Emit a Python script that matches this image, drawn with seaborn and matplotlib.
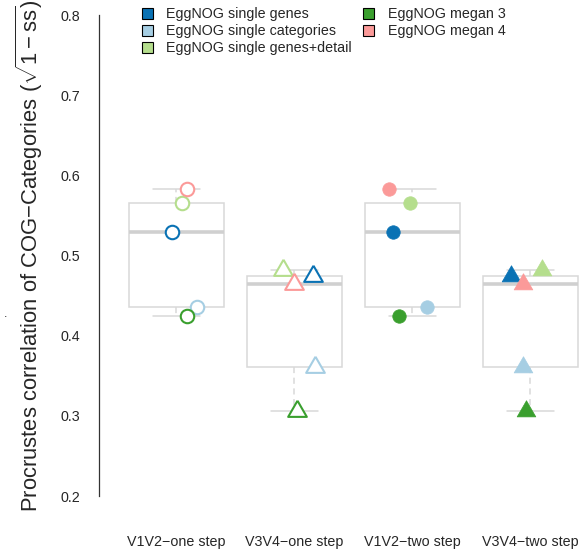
import numpy as np
import pandas as pd
import seaborn as sns

import matplotlib

matplotlib.use("Agg")
import matplotlib.pyplot as plt
from matplotlib.patches import Patch

sns.set_style("white")
plt.rcParams["font.family"] = ["Liberation Sans", "DejaVu Sans"]
plt.rcParams["mathtext.fontset"] = "custom"
plt.rcParams["mathtext.rm"] = "Liberation Sans"
plt.rcParams["mathtext.it"] = "Liberation Sans:italic"

groups = ["V1V2\u2212one step", "V3V4\u2212one step", "V1V2\u2212two step", "V3V4\u2212two step"]
methods = [
    "EggNOG single genes",
    "EggNOG single categories",
    "EggNOG single genes+detail",
    "EggNOG megan 3",
    "EggNOG megan 4",
]
colors = ["#0A72B4", "#A6CEE3", "#B5DE8D", "#3A9F2E", "#FB9A99"]

# one value per method, same order as methods
v1v2_vals = [0.529, 0.436, 0.565, 0.424, 0.583]
v3v4_vals = [0.474, 0.361, 0.482, 0.306, 0.464]
group_vals = [v1v2_vals, v3v4_vals, v1v2_vals, v3v4_vals]

# horizontal jitter of each point (category units)
jitter = [
    [-0.034, 0.174, 0.047, 0.093, 0.089],
    [0.159, 0.176, -0.097, 0.025, -0.007],
    [-0.169, 0.127, -0.025, -0.113, -0.195],
    [-0.161, -0.059, 0.099, -0.036, -0.062],
]

# R-style triangle (pch 2 / 17): the point sits at the centroid
r_triangle = [(0, 1.555), (1.347, -0.778), (-1.347, -0.778), (0, 1.555)]
group_marker = ["o", r_triangle, "o", r_triangle]
group_filled = [False, False, True, True]

rows = []
for g, vals in zip(groups, group_vals):
    for m, v in zip(methods, vals):
        rows.append({"group": g, "method": m, "value": v})
df = pd.DataFrame(rows)

fig = plt.figure(figsize=(5.8, 5.52), dpi=100)
ax = fig.add_axes([0.170, 0.1014, 0.830, 0.8714])

sns.boxplot(
    data=df,
    x="group",
    y="value",
    order=groups,
    width=0.8,
    color="white",
    linecolor="#D8D8D8",
    linewidth=1.1,
    showfliers=False,
    whis=10,
    whiskerprops=dict(linestyle=(0, (4, 3)), color="#D8D8D8"),
    capprops=dict(color="#D8D8D8"),
    medianprops=dict(color="#D0D0D0", linewidth=2.6),
    ax=ax,
)

for gi in range(len(groups)):
    for mi in range(len(methods)):
        x = gi + jitter[gi][mi]
        y = group_vals[gi][mi]
        mk = group_marker[gi]
        size = 9.7 if mk == "o" else 15.5
        ax.plot(
            x,
            y,
            marker=mk,
            markersize=size,
            markerfacecolor=colors[mi] if group_filled[gi] else "white",
            markeredgecolor=colors[mi],
            markeredgewidth=1.5 if not group_filled[gi] else 0.5,
            linestyle="none",
            zorder=3,
            clip_on=False,
        )

ax.set_xlim(-0.66, 3.42)
ax.set_ylim(0.2, 0.8)
ax.set_yticks([0.2, 0.3, 0.4, 0.5, 0.6, 0.7, 0.8])
ax.set_yticklabels(["0.2", "0.3", "0.4", "0.5", "0.6", "0.7", "0.8"])
for s in ["top", "right", "bottom"]:
    ax.spines[s].set_visible(False)
ax.spines["left"].set_color("#333333")
ax.spines["left"].set_linewidth(0.9)
ax.spines["left"].set_bounds(0.2, 0.8)
ax.tick_params(axis="y", direction="out", length=5, width=0.9, color="#333333",
               labelsize=10.3, pad=8)
ax.tick_params(axis="x", length=0, labelsize=10.3, pad=28)
ax.set_xlabel("")
ax.set_ylabel(
    "Procrustes correlation of COG\u2212Categories ($\\sqrt{1 - \\mathrm{ss}}$)",
    fontsize=15.8,
)
ax.yaxis.set_label_coords(-0.112, 0.5)

handles = [Patch(facecolor=c, edgecolor="black", linewidth=0.8) for c in colors]
fig.legend(
    handles,
    methods,
    loc="upper left",
    bbox_to_anchor=(0.2443, 0.987),
    ncol=2,
    frameon=False,
    fontsize=10.3,
    handlelength=0.77,
    handleheight=0.77,
    handletextpad=0.96,
    columnspacing=0.77,
    labelspacing=0.22,
    borderpad=0,
    borderaxespad=0,
)

fig.text(0.006, 0.425, ".", fontsize=9)

fig.savefig("out.png", dpi=100, facecolor="white")
